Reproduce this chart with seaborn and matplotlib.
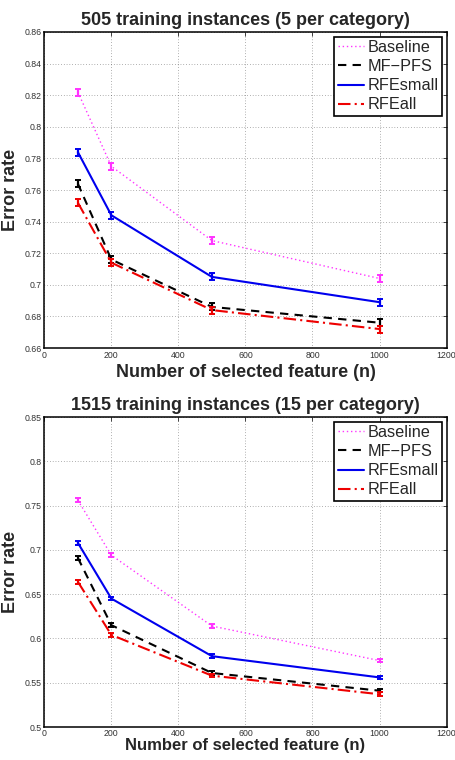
import matplotlib
matplotlib.use("Agg")
import matplotlib.pyplot as plt
import seaborn as sns
import pandas as pd

sns.set_style("white")
plt.rcParams['font.family'] = ['Liberation Sans', 'DejaVu Sans']

n_features = [100, 200, 500, 1000]
methods = ["Baseline", "MF\u2212PFS", "RFEsmall", "RFEall"]

# Panel 1: 505 training instances
p1_baseline = [0.822, 0.775, 0.728, 0.704]
p1_mfpfs = [0.764, 0.716, 0.686, 0.676]
p1_rfesmall = [0.784, 0.744, 0.705, 0.689]
p1_rfeall = [0.752, 0.714, 0.684, 0.672]
p1_err = [0.0022, 0.0022, 0.0022, 0.0022]

# Panel 2: 1515 training instances
p2_baseline = [0.756, 0.694, 0.614, 0.575]
p2_mfpfs = [0.691, 0.615, 0.561, 0.541]
p2_rfesmall = [0.708, 0.645, 0.580, 0.556]
p2_rfeall = [0.664, 0.604, 0.558, 0.537]
p2_err = [0.002, 0.002, 0.002, 0.002]

colors = {"Baseline": "#ff33ff", "MF\u2212PFS": "black", "RFEsmall": "#0000ee", "RFEall": "#ee0000"}
styles = {"Baseline": (0, (1, 2)), "MF\u2212PFS": (0, (4, 3)), "RFEsmall": "-", "RFEall": (0, (6, 2, 1, 2))}
widths = {"Baseline": 1.0, "MF\u2212PFS": 1.5, "RFEsmall": 1.5, "RFEall": 1.5}

panels = [
    ("505 training instances (5 per category)", [p1_baseline, p1_mfpfs, p1_rfesmall, p1_rfeall], p1_err,
     (0.66, 0.86), [0.66 + 0.02 * i for i in range(11)],
     ["0.66", "0.68", "0.7", "0.72", "0.74", "0.76", "0.78", "0.8", "0.82", "0.84", "0.86"], 3, 13, 2),
    ("1515 training instances (15 per category)", [p2_baseline, p2_mfpfs, p2_rfesmall, p2_rfeall], p2_err,
     (0.5, 0.85), [0.5 + 0.05 * i for i in range(8)],
     ["0.5", "0.55", "0.6", "0.65", "0.7", "0.75", "0.8", "0.85"], 0, 12, 1.5),
]

fig = plt.figure(figsize=(4.56, 7.6), dpi=100)
rects = [[0.0972, 0.5421, 0.8821, 0.4158], [0.0972, 0.0434, 0.8821, 0.4079]]

for rect, (title, series, err, ylim, yticks, yticklabels, xpad, xfs, tpad) in zip(rects, panels):
    ax = fig.add_axes(rect)
    rows = []
    for m, vals in zip(methods, series):
        for x, v in zip(n_features, vals):
            rows.append({"n": x, "err": v, "method": m})
    df = pd.DataFrame(rows)
    for m, vals in zip(methods, series):
        sub = df[df.method == m]
        sns.lineplot(data=sub, x="n", y="err", ax=ax, color=colors[m], linestyle=styles[m],
                     linewidth=widths[m], label=m, errorbar=None)
        ax.errorbar(n_features, vals, yerr=err, fmt="none", ecolor=colors[m],
                    elinewidth=1.6, capsize=2.2, capthick=1.4)
    ax.set_xlim(0, 1200)
    ax.set_ylim(*ylim)
    ax.set_xticks([0, 200, 400, 600, 800, 1000, 1200])
    ax.set_xticklabels(["0", "200", "400", "600", "800", "1000", "1200"])
    ax.set_yticks(yticks)
    ax.set_yticklabels(yticklabels)
    ax.tick_params(labelsize=6.3, labelcolor="#333333", direction="in", length=3, width=0.6,
                   top=True, right=True, pad=2)
    ax.tick_params(axis="x", pad=tpad)
    ax.grid(True, color="black", linestyle=(0, (1, 3)), linewidth=0.5, alpha=0.6)
    for s in ax.spines.values():
        s.set_color("black")
        s.set_linewidth(1.1)
    ax.set_title(title, fontsize=13, fontweight="bold", pad=5)
    ax.set_xlabel("Number of selected feature (n)", fontsize=xfs, fontweight="bold", labelpad=xpad)
    ax.set_ylabel("Error rate", fontsize=13, fontweight="bold", labelpad=4)
    leg = ax.legend(loc="upper right", fontsize=11.7, frameon=True, fancybox=False,
                    edgecolor="black", framealpha=1, handlelength=1.6, handletextpad=0.25,
                    borderpad=0.2, labelspacing=0.26, borderaxespad=0.28)
    leg.get_frame().set_linewidth(1.2)

fig.savefig("out.png", dpi=100)
